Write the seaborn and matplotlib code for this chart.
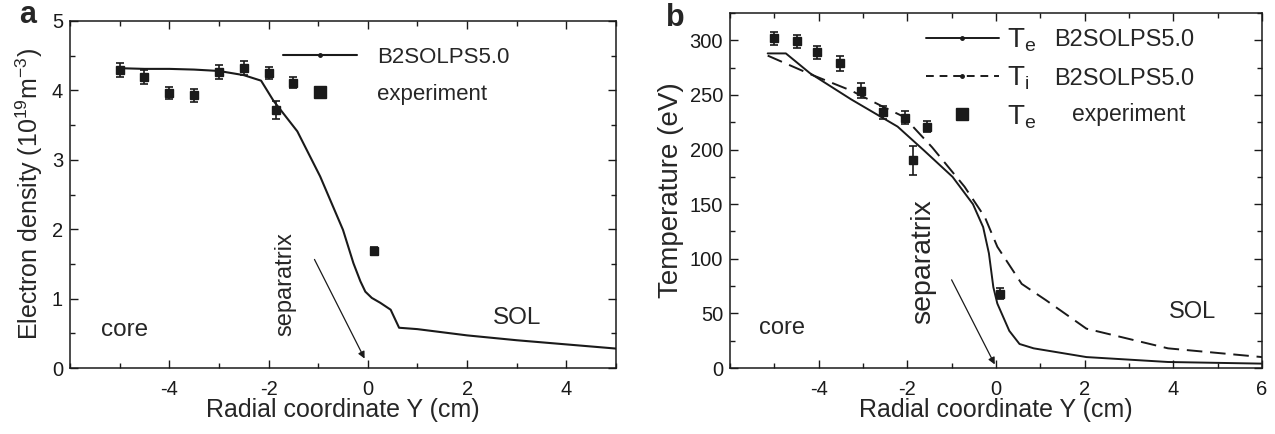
import numpy as np
import pandas as pd
import matplotlib
matplotlib.use("Agg")
import matplotlib.pyplot as plt
from matplotlib.lines import Line2D
from matplotlib.ticker import MultipleLocator, FixedLocator
import seaborn as sns

sns.set_theme(style="ticks")
plt.rcParams['font.family'] = ['Liberation Sans', 'DejaVu Sans']
plt.rcParams['mathtext.fontset'] = 'custom'
plt.rcParams['mathtext.rm'] = 'Liberation Sans'
plt.rcParams['mathtext.it'] = 'Liberation Sans'
plt.rcParams['axes.unicode_minus'] = False

# ---- Panel a: electron density ----
ne_sim_x = [-5.0, -4.5, -4.0, -3.5, -3.0, -2.5, -2.15, -1.9, -1.42, -0.96, -0.5, -0.29, -0.15,
            -0.05, 0.08, 0.25, 0.46, 0.63, 1.0, 2.0, 3.0, 4.0, 5.0]
ne_sim_y = [4.32, 4.31, 4.31, 4.30, 4.28, 4.22, 4.14, 3.85, 3.41, 2.76, 1.99, 1.51, 1.25,
            1.10, 1.01, 0.94, 0.84, 0.58, 0.56, 0.47, 0.40, 0.34, 0.28]
ne_exp_x = [-5.0, -4.5, -4.0, -3.5, -3.0, -2.5, -2.0, -1.85, -1.5, 0.12]
ne_exp_y = [4.29, 4.19, 3.96, 3.93, 4.26, 4.32, 4.25, 3.72, 4.11, 1.69]
ne_exp_err = [0.10, 0.10, 0.09, 0.09, 0.10, 0.10, 0.09, 0.13, 0.08, 0.06]
xticks_a = [-4, -2, 0, 2, 4]

# ---- Panel b: temperatures ----
te_sim_x = [-5.15, -4.74, -4.2, -3.27, -2.22, -1.62, -0.98, -0.52, -0.29, -0.16, -0.06,
            0.03, 0.3, 0.53, 0.85, 2.04, 3.88, 6.0]
te_sim_y = [288, 288, 270, 246, 221, 199, 175, 150, 129, 105, 74, 59, 34, 22, 18, 10, 5.5, 4]
ti_sim_x = [-5.15, -4.19, -3.27, -2.54, -2.08, -1.44, -0.71, -0.25, 0.03, 0.58, 1.13,
            2.04, 3.88, 6.0]
ti_sim_y = [286, 269, 254, 239, 230, 202, 166, 138, 111, 77, 62, 36, 18, 10]
te_exp_x = [-5.0, -4.5, -4.03, -3.53, -3.04, -2.56, -2.06, -1.88, -1.55, 0.1]
te_exp_y = [302, 299, 289, 279, 254, 234, 229, 190, 221, 68]
te_exp_err = [6, 6, 6, 7, 7, 6, 6, 13, 5, 5]
xticks_b = [-4, -2, 0, 2, 4, 6]

W, H = 1275, 434
fig = plt.figure(figsize=(W / 100, H / 100), dpi=100)
axa = fig.add_axes([70 / W, 1 - 368 / H, (616 - 70) / W, (368 - 21) / H])
axb = fig.add_axes([730 / W, 1 - 368 / H, (1262 - 730) / W, (368 - 13) / H])

FS_TICK = 14.5

def style(ax):
    ax.tick_params(which='both', direction='in', top=True, right=True,
                   labelsize=FS_TICK, color='k', width=1, labelcolor='k')
    ax.tick_params(which='major', length=6)
    ax.tick_params(which='minor', length=3.5)
    ax.tick_params(axis='x', which='both', pad=8.6)
    ax.tick_params(axis='y', which='both', pad=5)
    for s in ax.spines.values():
        s.set_color('k')
        s.set_linewidth(1.1)

# Panel a
dfa = pd.DataFrame({'x': ne_sim_x, 'y': ne_sim_y})
sns.lineplot(data=dfa, x='x', y='y', ax=axa, color='k', lw=1.5, sort=False, estimator=None)
axa.errorbar(ne_exp_x, ne_exp_y, yerr=ne_exp_err, fmt='s', color='k', ms=6,
             capsize=3, elinewidth=1.2, capthick=1.2)
axa.set_xlim(-6, 5)
axa.set_ylim(0, 5)
axa.xaxis.set_major_locator(FixedLocator(xticks_a))
axa.xaxis.set_minor_locator(MultipleLocator(1))
axa.yaxis.set_major_locator(MultipleLocator(1))
axa.yaxis.set_minor_locator(MultipleLocator(0.5))
style(axa)
axa.set_xlabel('Radial coordinate Y (cm)', fontsize=18, labelpad=-1)
axa.set_ylabel('Electron density (10$^{19}$m$^{-3}$)', fontsize=18, labelpad=5)
axa.text(-4.9, 0.55, 'core', fontsize=17.5, ha='center', va='center')
axa.text(3.0, 0.72, 'SOL', fontsize=17.5, ha='center', va='center')
axa.text(-1.67, 1.21, 'separatrix', fontsize=17, rotation=90, ha='center', va='center')
axa.annotate('', xy=(-0.04, 0.1), xytext=(-1.1, 1.6),
             arrowprops=dict(arrowstyle='-|>', color='k', lw=0.9, mutation_scale=10))
ha = [Line2D([], [], color='k', lw=1.5, marker='o', ms=2.5),
      Line2D([], [], color='k', lw=0, marker='s', ms=8)]
axa.legend(ha, ['B2SOLPS5.0', 'experiment'], loc='upper left', bbox_to_anchor=(0.391, 0.925),
           frameon=False, fontsize=16, handlelength=3.33, numpoints=1,
           handletextpad=0.9, labelspacing=0.72, borderpad=0, borderaxespad=0)

# Panel b
dfte = pd.DataFrame({'x': te_sim_x, 'y': te_sim_y})
dfti = pd.DataFrame({'x': ti_sim_x, 'y': ti_sim_y})
sns.lineplot(data=dfte, x='x', y='y', ax=axb, color='k', lw=1.4, sort=False, estimator=None)
sns.lineplot(data=dfti, x='x', y='y', ax=axb, color='k', lw=1.4, sort=False, estimator=None,
             linestyle=(0, (8, 4)))
axb.errorbar(te_exp_x, te_exp_y, yerr=te_exp_err, fmt='s', color='k', ms=6,
             capsize=3, elinewidth=1.2, capthick=1.2)
axb.set_xlim(-6, 6)
axb.set_ylim(0, 325)
axb.xaxis.set_major_locator(FixedLocator(xticks_b))
axb.xaxis.set_minor_locator(MultipleLocator(1))
axb.yaxis.set_major_locator(MultipleLocator(50))
axb.yaxis.set_minor_locator(MultipleLocator(25))
style(axb)
axb.set_xlabel('Radial coordinate Y (cm)', fontsize=18, labelpad=-1)
axb.set_ylabel('Temperature (eV)', fontsize=20, labelpad=4)
axb.text(-4.83, 37, 'core', fontsize=17, ha='center', va='center')
axb.text(4.43, 51, 'SOL', fontsize=17, ha='center', va='center')
axb.text(-1.64, 97, 'separatrix', fontsize=20.5, rotation=90, ha='center', va='center')
axb.annotate('', xy=(0.0, 1), xytext=(-1.03, 83),
             arrowprops=dict(arrowstyle='-|>', color='k', lw=0.9, mutation_scale=10))
hb = [Line2D([], [], color='k', lw=1.4, marker='o', ms=2.5),
      Line2D([], [], color='k', lw=1.4, marker='o', ms=2.5, linestyle=(0, (4, 3))),
      Line2D([], [], color='k', lw=0, marker='s', ms=8)]
axb.legend(hb, ['T$_{\\rm e}$', 'T$_{\\rm i}$', 'T$_{\\rm e}$'],
           loc='upper left', bbox_to_anchor=(0.368, 0.962),
           frameon=False, fontsize=20, handlelength=2.63, numpoints=1,
           handletextpad=0.3, labelspacing=0.39, borderpad=0, borderaxespad=0)
axb.text(1.30, 300, 'B2SOLPS5.0', fontsize=17, ha='left', va='center')
axb.text(1.30, 265, 'B2SOLPS5.0', fontsize=17, ha='left', va='center')
axb.text(1.72, 232, 'experiment', fontsize=16.5, ha='left', va='center')

fig.text(28 / W, 1 - 15 / H, 'a', fontsize=22, fontweight='bold', ha='center', va='center')
fig.text(675 / W, 1 - 18 / H, 'b', fontsize=22, fontweight='bold', ha='center', va='center')

fig.savefig('out.png', dpi=100)
